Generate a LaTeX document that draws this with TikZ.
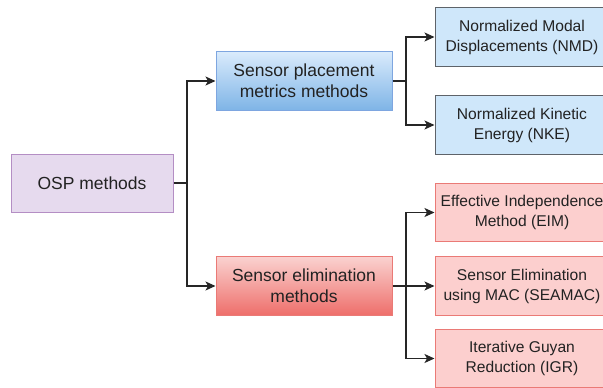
\documentclass[tikz,border=0pt]{standalone}
\usepackage{fontspec}
\setmainfont{Liberation Sans}
\usetikzlibrary{arrows.meta}
\definecolor{txt}{HTML}{222222}
\definecolor{purfill}{HTML}{E6DAEE}
\definecolor{purline}{HTML}{B48EC4}
\definecolor{bluetop}{HTML}{DAEBFC}
\definecolor{bluebot}{HTML}{7EB4E6}
\definecolor{blueline}{HTML}{7EA6E0}
\definecolor{lblue}{HTML}{CFE7FA}
\definecolor{greyline}{HTML}{5E6369}
\definecolor{redtop}{HTML}{FAD2D0}
\definecolor{redbot}{HTML}{EE6E6A}
\definecolor{redline}{HTML}{EA7A76}
\definecolor{lred}{HTML}{FCCFCE}
\begin{document}
\begin{tikzpicture}[x=1pt,y=-1pt,
  box/.style={rectangle, align=center, text=txt, inner sep=0pt, line width=1pt},
  big/.style={box, font=\fontsize{17.5}{21}\selectfont},
  small/.style={box, font=\fontsize{15.6}{20}\selectfont, minimum width=174pt, minimum height=58.5pt},
  osp/.style={big, fill=purfill, draw=purline, minimum width=162pt, minimum height=58pt},
  midblue/.style={big, top color=bluetop, bottom color=bluebot, draw=blueline, minimum width=176pt, minimum height=59pt},
  midred/.style={big, top color=redtop, bottom color=redbot, draw=redline, minimum width=176pt, minimum height=59pt},
  leafblue/.style={small, fill=lblue, draw=greyline},
  leafred/.style={small, fill=lred, draw=redline},
  arr/.style={line width=1.2pt, draw=black!85, -{Stealth[length=10pt,width=9pt,inset=2.5pt]}},
  ln/.style={line width=1.2pt, draw=black!85}
]
\useasboundingbox (0,0) rectangle (603,388);
\begin{scope}
\clip (0,0) rectangle (603,388);
\node[osp] (osp) at (92,183) {OSP methods};
\node[midblue] (sp) at (304,81) {Sensor placement\\metrics methods};
\node[midred] (se) at (304,286) {Sensor elimination\\methods};
\node[leafblue] (nmd) at (522,37) {Normalized Modal\\Displacements (NMD)};
\node[leafblue] (nke) at (522,125) {Normalized Kinetic\\Energy (NKE)};
\node[leafred] (eim) at (522,212.5) {Effective Independence\\Method (EIM)};
\node[leafred] (seamac) at (522,286) {Sensor Elimination\\using MAC (SEAMAC)};
\node[leafred] (igr) at (522,358.5) {Iterative Guyan\\Reduction (IGR)};
\end{scope}
\coordinate (j1) at (187,183);
\coordinate (j2) at (406,81);
\coordinate (j3) at (406,286);
\draw[ln] (osp.east) -- (j1);
\draw[arr] (j1) |- (sp.west);
\draw[arr] (j1) |- (se.west);
\draw[ln] (sp.east) -- (j2);
\draw[arr] (j2) |- (nmd.west);
\draw[arr] (j2) |- (nke.west);
\draw[arr] (se.east) -- (seamac.west);
\draw[arr] (j3) |- (eim.west);
\draw[arr] (j3) |- (igr.west);
\end{tikzpicture}
\end{document}
